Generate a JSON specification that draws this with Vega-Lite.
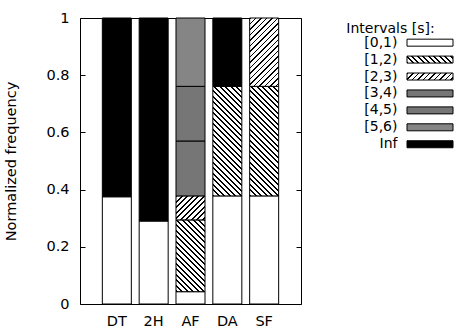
{
  "$schema": "https://vega.github.io/schema/vega-lite/v6.json",
  "width": 221,
  "height": 286,
  "autosize": {"type": "none"},
  "padding": {"left": 80, "top": 18, "right": 161, "bottom": 25},
  "params": [
    {"name": "stripes", "value": [
      {"offset":0,"color":"#000"},{"offset":0.0117,"color":"#000"},{"offset":0.0117,"color":"#fff"},{"offset":0.0357,"color":"#fff"},
      {"offset":0.0357,"color":"#000"},{"offset":0.0474,"color":"#000"},{"offset":0.0474,"color":"#fff"},{"offset":0.0714,"color":"#fff"},
      {"offset":0.0714,"color":"#000"},{"offset":0.0831,"color":"#000"},{"offset":0.0831,"color":"#fff"},{"offset":0.1071,"color":"#fff"},
      {"offset":0.1071,"color":"#000"},{"offset":0.1188,"color":"#000"},{"offset":0.1188,"color":"#fff"},{"offset":0.1429,"color":"#fff"},
      {"offset":0.1429,"color":"#000"},{"offset":0.1546,"color":"#000"},{"offset":0.1546,"color":"#fff"},{"offset":0.1786,"color":"#fff"},
      {"offset":0.1786,"color":"#000"},{"offset":0.1903,"color":"#000"},{"offset":0.1903,"color":"#fff"},{"offset":0.2143,"color":"#fff"},
      {"offset":0.2143,"color":"#000"},{"offset":0.2260,"color":"#000"},{"offset":0.2260,"color":"#fff"},{"offset":0.25,"color":"#fff"},
      {"offset":0.25,"color":"#000"},{"offset":0.2617,"color":"#000"},{"offset":0.2617,"color":"#fff"},{"offset":0.2857,"color":"#fff"},
      {"offset":0.2857,"color":"#000"},{"offset":0.2974,"color":"#000"},{"offset":0.2974,"color":"#fff"},{"offset":0.3214,"color":"#fff"},
      {"offset":0.3214,"color":"#000"},{"offset":0.3331,"color":"#000"},{"offset":0.3331,"color":"#fff"},{"offset":0.3571,"color":"#fff"},
      {"offset":0.3571,"color":"#000"},{"offset":0.3688,"color":"#000"},{"offset":0.3688,"color":"#fff"},{"offset":0.3929,"color":"#fff"},
      {"offset":0.3929,"color":"#000"},{"offset":0.4046,"color":"#000"},{"offset":0.4046,"color":"#fff"},{"offset":0.4286,"color":"#fff"},
      {"offset":0.4286,"color":"#000"},{"offset":0.4403,"color":"#000"},{"offset":0.4403,"color":"#fff"},{"offset":0.4643,"color":"#fff"},
      {"offset":0.4643,"color":"#000"},{"offset":0.4760,"color":"#000"},{"offset":0.4760,"color":"#fff"},{"offset":0.5,"color":"#fff"},
      {"offset":0.5,"color":"#000"},{"offset":0.5117,"color":"#000"},{"offset":0.5117,"color":"#fff"},{"offset":0.5357,"color":"#fff"},
      {"offset":0.5357,"color":"#000"},{"offset":0.5474,"color":"#000"},{"offset":0.5474,"color":"#fff"},{"offset":0.5714,"color":"#fff"},
      {"offset":0.5714,"color":"#000"},{"offset":0.5831,"color":"#000"},{"offset":0.5831,"color":"#fff"},{"offset":0.6071,"color":"#fff"},
      {"offset":0.6071,"color":"#000"},{"offset":0.6188,"color":"#000"},{"offset":0.6188,"color":"#fff"},{"offset":0.6429,"color":"#fff"},
      {"offset":0.6429,"color":"#000"},{"offset":0.6546,"color":"#000"},{"offset":0.6546,"color":"#fff"},{"offset":0.6786,"color":"#fff"},
      {"offset":0.6786,"color":"#000"},{"offset":0.6903,"color":"#000"},{"offset":0.6903,"color":"#fff"},{"offset":0.7143,"color":"#fff"},
      {"offset":0.7143,"color":"#000"},{"offset":0.7260,"color":"#000"},{"offset":0.7260,"color":"#fff"},{"offset":0.75,"color":"#fff"},
      {"offset":0.75,"color":"#000"},{"offset":0.7617,"color":"#000"},{"offset":0.7617,"color":"#fff"},{"offset":0.7857,"color":"#fff"},
      {"offset":0.7857,"color":"#000"},{"offset":0.7974,"color":"#000"},{"offset":0.7974,"color":"#fff"},{"offset":0.8214,"color":"#fff"},
      {"offset":0.8214,"color":"#000"},{"offset":0.8331,"color":"#000"},{"offset":0.8331,"color":"#fff"},{"offset":0.8571,"color":"#fff"},
      {"offset":0.8571,"color":"#000"},{"offset":0.8688,"color":"#000"},{"offset":0.8688,"color":"#fff"},{"offset":0.8929,"color":"#fff"},
      {"offset":0.8929,"color":"#000"},{"offset":0.9046,"color":"#000"},{"offset":0.9046,"color":"#fff"},{"offset":0.9286,"color":"#fff"},
      {"offset":0.9286,"color":"#000"},{"offset":0.9403,"color":"#000"},{"offset":0.9403,"color":"#fff"},{"offset":0.9643,"color":"#fff"},
      {"offset":0.9643,"color":"#000"},{"offset":0.9760,"color":"#000"},{"offset":0.9760,"color":"#fff"},{"offset":1,"color":"#fff"}
    ]}
  ],
  "datasets": {
    "bars": [
      {"set": "DT", "interval": "[0,1)", "k": 0, "freq": 0.375},
      {"set": "DT", "interval": "Inf", "k": 6, "freq": 0.625},
      {"set": "2H", "interval": "[0,1)", "k": 0, "freq": 0.29},
      {"set": "2H", "interval": "Inf", "k": 6, "freq": 0.71},
      {"set": "AF", "interval": "[0,1)", "k": 0, "freq": 0.043},
      {"set": "AF", "interval": "[1,2)", "k": 1, "freq": 0.251},
      {"set": "AF", "interval": "[2,3)", "k": 2, "freq": 0.084},
      {"set": "AF", "interval": "[3,4)", "k": 3, "freq": 0.192},
      {"set": "AF", "interval": "[4,5)", "k": 4, "freq": 0.191},
      {"set": "AF", "interval": "[5,6)", "k": 5, "freq": 0.239},
      {"set": "DA", "interval": "[0,1)", "k": 0, "freq": 0.378},
      {"set": "DA", "interval": "[1,2)", "k": 1, "freq": 0.383},
      {"set": "DA", "interval": "Inf", "k": 6, "freq": 0.239},
      {"set": "SF", "interval": "[0,1)", "k": 0, "freq": 0.378},
      {"set": "SF", "interval": "[1,2)", "k": 1, "freq": 0.383},
      {"set": "SF", "interval": "[2,3)", "k": 2, "freq": 0.239}
    ],
    "intervals": [
      {"interval": "[0,1)"}, {"interval": "[1,2)"}, {"interval": "[2,3)"}, {"interval": "[3,4)"},
      {"interval": "[4,5)"}, {"interval": "[5,6)"}, {"interval": "Inf"}
    ]
  },
  "layer": [
    {
      "data": {"name": "bars"},
      "mark": {
        "type": "bar",
        "stroke": "#000",
        "strokeWidth": 1,
        "fill": {"expr": "datum.interval==='[1,2)' ? {gradient:'linear', x1:0, y1:1, x2:154*29/(841+pow(286*(datum.freq_end-datum.freq_start),2)), y2:1-154*286*(datum.freq_end-datum.freq_start)/(841+pow(286*(datum.freq_end-datum.freq_start),2)), stops:stripes} : datum.interval==='[2,3)' ? {gradient:'linear', x1:0, y1:0, x2:154*29/(841+pow(286*(datum.freq_end-datum.freq_start),2)), y2:154*286*(datum.freq_end-datum.freq_start)/(841+pow(286*(datum.freq_end-datum.freq_start),2)), stops:stripes} : (datum.interval==='[3,4)' || datum.interval==='[4,5)') ? '#767676' : datum.interval==='[5,6)' ? '#858585' : datum.interval==='Inf' ? '#000000' : '#ffffff'"}
      },
      "encoding": {
        "x": {
          "field": "set", "type": "nominal",
          "sort": ["DT", "2H", "AF", "DA", "SF"],
          "scale": {"paddingInner": 0.2126, "paddingOuter": 0.6063},
          "axis": {"title": null, "ticks": false, "domain": false, "labelAngle": 0, "labelPadding": 10, "labelFontSize": 14.5}
        },
        "y": {
          "field": "freq", "type": "quantitative", "stack": "zero",
          "scale": {"domain": [0, 1], "nice": false},
          "axis": {
            "title": "Normalized frequency", "titleFontSize": 14.5, "titleFontWeight": "normal",
            "titleX": -64.5, "titleY": 143, "titleAngle": -90, "titleAlign": "center", "titleBaseline": "alphabetic",
            "values": [0, 0.2, 0.4, 0.6, 0.8, 1], "format": "~g",
            "domain": false, "grid": false, "tickSize": -5, "labelPadding": 16, "labelFontSize": 14.5
          }
        },
        "detail": {"field": "interval"},
        "order": {"field": "k", "type": "quantitative"}
      }
    },
    {
      "data": {"name": "bars"},
      "mark": {"type": "point", "opacity": 0},
      "encoding": {
        "y": {
          "field": "freq", "type": "quantitative",
          "scale": {"domain": [0, 1], "nice": false},
          "axis": {"orient": "right", "title": null, "labels": false, "domain": false, "grid": false, "tickSize": -5, "values": [0, 0.2, 0.4, 0.6, 0.8, 1]}
        }
      }
    },
    {
      "data": {"name": "intervals"},
      "mark": {
        "type": "bar",
        "height": 7,
        "stroke": "#000",
        "strokeWidth": 1,
        "fill": {"expr": "datum.interval==='[1,2)' ? {gradient:'linear',x1:0,y1:1,x2:3.272,y2:0.502,stops:stripes} : datum.interval==='[2,3)' ? {gradient:'linear',x1:0,y1:0,x2:3.272,y2:0.498,stops:stripes} : (datum.interval==='[3,4)'||datum.interval==='[4,5)') ? '#767676' : datum.interval==='[5,6)' ? '#858585' : datum.interval==='Inf' ? '#000000' : '#ffffff'"}
      },
      "encoding": {
        "x": {"datum": 0, "type": "quantitative", "scale": {"domain": [0, 1], "range": [327, 373]}, "axis": null},
        "x2": {"datum": 1},
        "y": {
          "field": "interval", "type": "nominal",
          "sort": ["[0,1)", "[1,2)", "[2,3)", "[3,4)", "[4,5)", "[5,6)", "Inf"],
          "scale": {"range": [16.2, 134.7], "paddingInner": 0, "paddingOuter": 0},
          "axis": {
            "orient": "left", "offset": -327, "domain": false, "ticks": false, "grid": false,
            "labelPadding": 10, "labelFontSize": 14,
            "title": "Intervals [s]:", "titleAngle": 0, "titleX": -17, "titleY": 10.5,
            "titleAlign": "center", "titleBaseline": "middle", "titleFontSize": 14, "titleFontWeight": "normal"
          }
        }
      }
    }
  ],
  "resolve": {
    "scale": {"x": "independent", "y": "independent"},
    "axis": {"x": "independent", "y": "independent"}
  },
  "config": {
    "font": "DejaVu Sans",
    "view": {"stroke": "#000", "strokeWidth": 1},
    "axis": {"labelColor": "#000", "titleColor": "#000", "tickColor": "#000", "labelFont": "DejaVu Sans", "titleFont": "DejaVu Sans"}
  }
}
